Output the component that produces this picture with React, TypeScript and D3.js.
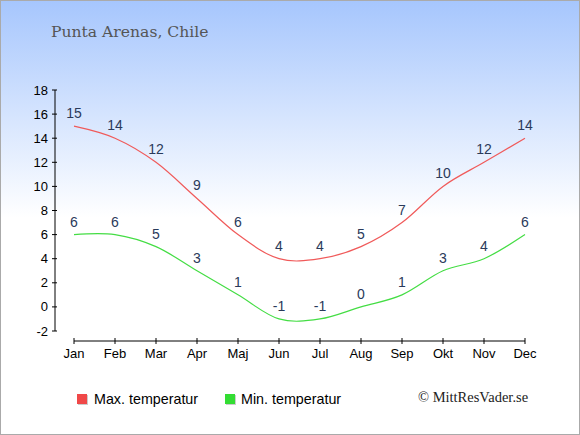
import React from "react";
import * as d3 from "d3";

const months = ["Jan","Feb","Mar","Apr","Maj","Jun","Jul","Aug","Sep","Okt","Nov","Dec"];
const maxTemp = [15,14,12,9,6,4,4,5,7,10,12,14];
const minTemp = [6,6,5,3,1,-1,-1,0,1,3,4,6];
const yTicks = [-2,0,2,4,6,8,10,12,14,16,18];

const W = 580, H = 435;

export default function App() {
  const x = d3.scalePoint<string>().domain(months).range([74, 525]);
  const y = d3.scaleLinear().domain([-2, 18]).range([331, 90]);
  const line = d3.line<number>()
    .x((_, i) => x(months[i]) as number)
    .y(d => y(d))
    .curve(d3.curveCardinal.tension(0));
  const sans = "'Liberation Sans', Arial, sans-serif";
  const serif = "'DejaVu Serif', 'Liberation Serif', serif";
  return (
    <svg width={W} height={H} style={{ position: "absolute", left: 0, top: 0 }}>
      <defs>
        <linearGradient id="bg" x1="0" y1="0" x2="0" y2="1">
          <stop offset="0" stopColor="#a6c6fd" />
          <stop offset="0.5" stopColor="#ffffff" />
          <stop offset="1" stopColor="#ffffff" />
        </linearGradient>
      </defs>
      <rect x={0.5} y={0.5} width={W - 1} height={H - 1} fill="url(#bg)" stroke="#aaaaaa" />
      <text x={51} y={37} fontFamily={serif} fontSize={15.6} fill="#555555">Punta Arenas, Chile</text>

      {/* y axis */}
      <line x1={55} x2={55} y1={y(18)} y2={y(-2)} stroke="#000" />
      {yTicks.map(t => (
        <g key={t}>
          <line x1={52} x2={57} y1={y(t)} y2={y(t)} stroke="#000" />
          <text x={48} y={y(t) + 4.5} textAnchor="end" fontFamily={sans} fontSize={13} fill="#000">{t}</text>
        </g>
      ))}
      {/* x axis */}
      <line x1={74} x2={525} y1={341} y2={341} stroke="#000" />
      {months.map(m => (
        <g key={m}>
          <line x1={x(m)} x2={x(m)} y1={338} y2={344} stroke="#000" />
          <text x={x(m)} y={358} textAnchor="middle" fontFamily={sans} fontSize={13} fill="#000">{m}</text>
        </g>
      ))}

      <path d={line(maxTemp) as string} fill="none" stroke="#f05a5a" strokeWidth={1.2} />
      <path d={line(minTemp) as string} fill="none" stroke="#44dd44" strokeWidth={1.2} />

      {maxTemp.map((v, i) => (
        <text key={"mx" + i} x={x(months[i])} y={y(v) - 8} textAnchor="middle" fontFamily={sans} fontSize={14} fill="#2a3a5a">{v}</text>
      ))}
      {minTemp.map((v, i) => (
        <text key={"mn" + i} x={x(months[i])} y={y(v) - 8} textAnchor="middle" fontFamily={sans} fontSize={14} fill="#2a3a5a">{v}</text>
      ))}

      {/* legend */}
      <rect x={78} y={395} width={10} height={10} fill="#cccccc" />
      <rect x={77} y={394} width={10} height={10} fill="#f04848" />
      <text x={94} y={403.5} fontFamily={sans} fontSize={14.3} fill="#000">Max. temperatur</text>
      <rect x={226} y={395} width={10} height={10} fill="#cccccc" />
      <rect x={225} y={394} width={10} height={10} fill="#33dd33" />
      <text x={241} y={403.5} fontFamily={sans} fontSize={14.3} fill="#000">Min. temperatur</text>
      <text x={418} y={402} fontFamily="'Liberation Serif', serif" fontSize={14.5} fill="#222">© MittResVader.se</text>
    </svg>
  );
}
